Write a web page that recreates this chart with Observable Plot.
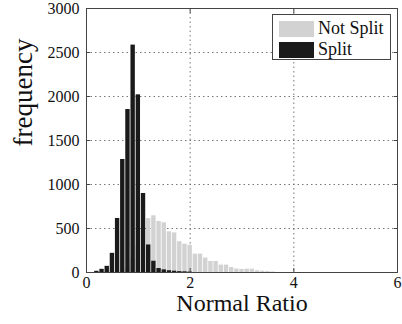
<!DOCTYPE html>
<html>
<head>
<meta charset="utf-8">
<script src="https://cdn.jsdelivr.net/npm/d3@7"></script>
<script src="https://cdn.jsdelivr.net/npm/@observablehq/plot@0.6"></script>
<style>
  body { margin: 0; background: #fff; }
  #wrap { position: relative; width: 402px; height: 324px; font-family: "Liberation Serif", "DejaVu Serif", serif; }
  #legend { position: absolute; left: 272px; top: 14px; width: 119px; height: 46px; border: 1px solid #444; background: #fff; box-sizing: border-box; }
  .item { position: absolute; left: 6px; display: flex; align-items: center; font-size: 18px; color: #111; font-family: "Liberation Serif", "DejaVu Serif", serif; }
  .sw { width: 35px; height: 16px; margin-right: 4px; }
</style>
</head>
<body>
<div id="wrap"></div>
<script>
// Bin centers (bin width 0.1) and counts
const binWidth = 0.1;
const splitCenters = [0.2, 0.3, 0.4, 0.5, 0.6, 0.7, 0.8, 0.9, 1.0, 1.1, 1.2, 1.3, 1.4, 1.5, 1.6, 1.7, 1.8, 1.9, 2.0];
const splitCounts  = [14, 36, 70, 218, 614, 1284, 1852, 2584, 2019, 898, 313, 128, 45, 30, 20, 15, 10, 8, 5];
const notSplitCenters = [0.6, 0.7, 0.8, 0.9, 1.0, 1.1, 1.2, 1.3, 1.4, 1.5, 1.6, 1.7, 1.8, 1.9, 2.0, 2.1, 2.2, 2.3, 2.4, 2.5, 2.6, 2.7, 2.8, 2.9, 3.0, 3.1, 3.2, 3.3, 3.4, 3.5, 3.6];
const notSplitCounts  = [5, 20, 60, 150, 300, 480, 612, 644, 580, 565, 462, 450, 350, 322, 310, 209, 209, 164, 125, 125, 84, 84, 57, 40, 35, 38, 38, 20, 15, 10, 6];
const xTicks = [0, 2, 4, 6];
const yTicks = [0, 500, 1000, 1500, 2000, 2500, 3000];
const series = ["Not Split", "Split"];
const colors = ["#d2d2d2", "#1a1a1a"];

const notSplit = notSplitCenters.map((c, i) => ({x1: c - binWidth / 2, x2: c + binWidth / 2, y: notSplitCounts[i]}));
const split = splitCenters.map((c, i) => ({x1: c - binWidth / 2, x2: c + binWidth / 2, y: splitCounts[i]}));

const font = "Liberation Serif, DejaVu Serif, serif";
const fmt = d => String(d);
const chart = Plot.plot({
  width: 402,
  height: 324,
  marginLeft: 86,
  marginRight: 5,
  marginTop: 8,
  marginBottom: 52,
  style: {fontFamily: font, background: "#fff", color: "#111", fontSize: "16px"},
  x: {domain: [0, 6], ticks: xTicks, tickFormat: fmt},
  y: {domain: [0, 3000], ticks: yTicks, tickFormat: fmt},
  marks: [
    Plot.gridY(yTicks.slice(1, -1), {stroke: "#777", strokeOpacity: 1, strokeDasharray: "1.5,3"}),
    Plot.gridX(xTicks.slice(1, -1), {stroke: "#777", strokeOpacity: 1, strokeDasharray: "1.5,3"}),
    Plot.rectY(notSplit, {x1: "x1", x2: "x2", y: "y", fill: colors[0], insetLeft: 0.4, insetRight: 0.4}),
    Plot.rectY(split, {x1: "x1", x2: "x2", y: "y", fill: colors[1], insetLeft: 0.4, insetRight: 0.4}),
    Plot.frame({stroke: "#444", strokeWidth: 1}),
    Plot.axisX(xTicks, {anchor: "bottom", tickSize: -4, tickPadding: 8, tickFormat: fmt, label: null, fontSize: 16, fontFamily: font, fill: "#111", stroke: "#444"}),
    Plot.axisX(xTicks, {anchor: "top", tickSize: -4, tickFormat: () => "", label: null, stroke: "#444"}),
    Plot.axisY(yTicks, {anchor: "left", tickSize: -4, tickPadding: 11, tickFormat: fmt, label: null, fontSize: 16, fontFamily: font, fill: "#111", stroke: "#444"}),
    Plot.axisY(yTicks, {anchor: "right", tickSize: -4, tickFormat: () => "", label: null, stroke: "#444"}),
    Plot.text(["frequency"], {frameAnchor: "left", rotate: -90, dx: -63, dy: 6, fontSize: 27, fontFamily: font, fill: "#111"}),
    Plot.text(["Normal Ratio"], {frameAnchor: "bottom", dy: 38, fontSize: 24, fontFamily: font, fill: "#111"})
  ]
});
const wrap = document.getElementById("wrap");
wrap.appendChild(chart);

const legend = document.createElement("div");
legend.id = "legend";
series.forEach((s, i) => {
  const item = document.createElement("div");
  item.className = "item";
  item.style.top = (3 + i * 21) + "px";
  const sw = document.createElement("div");
  sw.className = "sw";
  sw.style.background = colors[i];
  item.appendChild(sw);
  const t = document.createElement("span");
  t.textContent = s;
  item.appendChild(t);
  legend.appendChild(item);
});
wrap.appendChild(legend);
</script>
</body>
</html>
